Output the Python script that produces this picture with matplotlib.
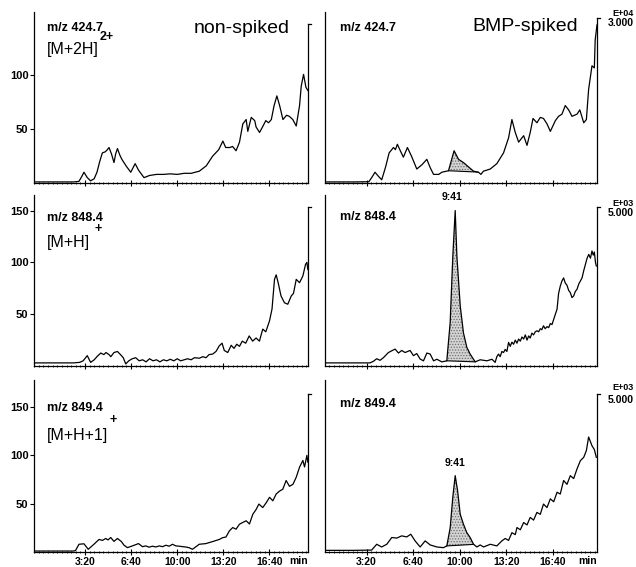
import numpy as np
import matplotlib
matplotlib.use("Agg")
import matplotlib.pyplot as plt
from matplotlib.ticker import MultipleLocator

plt.rcParams['font.family'] = ['Liberation Sans', 'DejaVu Sans']
plt.rcParams['hatch.linewidth'] = 0.6

##time axis (minutes) tick positions and labels
tick_pos = [10/3, 20/3, 10.0, 40/3, 50/3]
tick_labels = ["3:20", "6:40", "10:00", "13:20", "16:40"]

##m/z 424.7 non-spiked
t_ns_424 = [-0.4, 0.5, 1.5, 2.5, 2.9, 3.1, 3.26, 3.5, 3.74, 4.0, 4.2, 4.4, 4.59, 4.8, 4.95,
            5.07, 5.25, 5.43, 5.55, 5.68, 5.85, 6.0, 6.3, 6.64, 6.8, 6.96, 7.2, 7.6, 8.0, 8.5,
            9.0, 9.5, 10.0, 10.5, 11.0, 11.6, 12.1, 12.56, 13.0, 13.3, 13.5, 13.8, 14.0, 14.25, 14.5,
            14.74, 14.98, 15.1, 15.35, 15.6, 15.7, 15.95, 16.2, 16.4, 16.6, 16.8, 17.0, 17.2, 17.4, 17.64,
            17.9, 18.1, 18.35, 18.6, 18.84, 18.96, 19.13, 19.3, 19.44]
v_ns_424 = [1, 1, 1, 1, 1.5, 6, 10, 5, 2, 4, 10, 20, 28, 29, 31,
            33, 27, 19, 27, 32, 26, 22, 16, 10, 14, 18, 12, 5, 7, 8,
            8, 8.5, 8, 9, 9, 11, 16, 25, 31, 39, 33, 33, 34, 30, 38,
            55, 59, 48, 61, 58, 52, 47, 53, 58, 56, 59, 72, 81, 72, 59,
            63, 62, 59, 53, 72, 90, 101, 89, 86]

##m/z 424.7 BMP-spiked
t_sp_424 = [0.36, 1.5, 2.5, 3.5, 3.7, 3.94, 4.2, 4.42, 4.7, 4.95, 5.26, 5.4, 5.54, 5.75, 5.97,
            6.26, 6.55, 6.93, 7.3, 7.65, 7.9, 8.13, 8.5, 8.72, 9.2, 9.6, 9.92, 10.27, 10.63, 10.99,
            11.35, 11.52, 11.7, 12.19, 12.66, 13.14, 13.5, 13.74, 13.98, 14.22, 14.58, 14.82, 15.05, 15.25, 15.53,
            15.77, 16.0, 16.25, 16.49, 16.85, 17.08, 17.32, 17.56, 17.8, 18.04, 18.4, 18.6, 18.88, 19.07, 19.23,
            19.47, 19.64, 19.7, 19.83]
v_sp_424 = [1, 1, 1, 1.2, 5, 10, 6, 3, 15, 28, 33, 31, 36, 30, 24,
            33, 25, 13, 17, 22, 14, 8, 8, 10, 11.4, 30, 22, 19, 15, 11,
            10, 8, 11, 13, 18, 28, 42, 59, 47, 38, 44, 35, 47, 60, 56,
            61, 60, 55, 48, 58, 62, 64, 72, 68, 62, 64, 68, 56, 59, 87,
            109, 107, 133, 147]

##m/z 848.4 non-spiked
t_ns_848 = [-0.4, 0.5, 1.5, 2.5, 2.95, 3.2, 3.5, 3.74, 4.0, 4.2, 4.47, 4.7, 4.85, 5.07, 5.2,
            5.43, 5.68, 5.9, 6.1, 6.28, 6.5, 6.75, 7.0, 7.25, 7.5, 7.75, 8.0, 8.25, 8.5, 8.75,
            9.0, 9.25, 9.5, 9.75, 10.0, 10.25, 10.5, 10.75, 11.0, 11.25, 11.6, 11.85, 12.08, 12.3, 12.56,
            12.8, 13.04, 13.24, 13.4, 13.65, 13.9, 14.1, 14.3, 14.5, 14.7, 14.95, 15.2, 15.45, 15.7, 15.94,
            16.18, 16.4, 16.67, 16.85, 17.03, 17.15, 17.3, 17.5, 17.75, 17.99, 18.24, 18.4, 18.6, 18.84, 19.08,
            19.27, 19.37, 19.44]
v_ns_848 = [3, 3, 3, 3, 3.5, 5, 10, 3.5, 6, 9, 12.5, 11, 13, 11, 9,
            13, 14, 11, 8, 2, 5, 7, 8, 5, 6, 4, 7, 5, 6, 4,
            6, 5, 6.5, 5, 7, 5, 6, 7, 6, 8, 7.5, 9, 8, 11, 11.5,
            14, 19.5, 22, 15, 13, 20, 17, 21, 19, 24, 22, 29, 24, 27, 24,
            35.6, 33, 43.6, 55, 83.6, 88, 80, 67.6, 61, 59.6, 67.6, 70, 83.6, 80.4, 86.9,
            98, 100, 93]

##m/z 848.4 BMP-spiked
t_sp_848 = [0.36, 1.5, 2.5, 3.58, 3.82, 4.06, 4.3, 4.54, 4.9, 5.14, 5.38, 5.62, 5.85, 6.09, 6.45,
            6.69, 6.93, 7.17, 7.41, 7.65, 7.89, 8.13, 8.37, 8.72, 9.08, 9.32, 9.51, 9.68, 9.8, 10.04,
            10.27, 10.51, 10.75, 10.99, 11.11, 11.47, 11.95, 12.31,
            12.54, 12.66, 12.78, 12.9, 13.02, 13.14, 13.26, 13.38, 13.5, 13.62,
            13.74, 13.86, 13.98, 14.1, 14.22, 14.34, 14.46, 14.58, 14.7, 14.82,
            14.94, 15.05, 15.17, 15.29, 15.41, 15.53, 15.65, 15.77, 15.88, 16.0,
            16.12, 16.25, 16.37, 16.49, 16.61, 16.73, 16.85, 16.97, 17.08, 17.2,
            17.32, 17.44, 17.56, 17.68, 17.8, 17.92, 18.04, 18.16, 18.28, 18.4,
            18.52, 18.64, 18.76, 18.88, 19.0, 19.12, 19.24, 19.36, 19.47, 19.56,
            19.64, 19.72, 19.78]
v_sp_848 = [3, 3, 3, 3, 4.5, 7, 5.5, 8, 13, 14.7, 16.3, 12.5, 15, 13, 15,
            10, 12, 6.7, 5, 12.5, 11.5, 5, 6.5, 4, 5, 42, 106, 150, 106, 58,
            32, 18, 11.5, 6.5, 4, 6, 5, 6.5,
            3.5, 9, 11.5, 9, 14, 13, 16, 14, 22.8, 19,
            23, 21, 25, 22, 26, 24, 28, 26, 30, 25,
            29, 27, 31.7, 30, 33, 34, 33, 36, 35, 38.8,
            36, 38, 37, 41, 40, 45, 50, 54.8, 70, 77,
            82, 85, 80, 78, 73, 70.8, 66, 67.6, 72, 74,
            79, 82, 85, 92, 98, 104, 107.7, 104, 111, 107,
            110, 100, 96.5]

##m/z 849.4 non-spiked
t_ns_849 = [-0.4, 0.5, 1.5, 2.5, 2.65, 2.9, 3.26, 3.57, 3.98, 4.35, 4.6, 4.83, 5.0, 5.19, 5.43,
            5.68, 5.95, 6.16, 6.4, 6.76, 7.2, 7.49, 7.73, 7.97, 8.21, 8.46, 8.7, 8.94, 9.18, 9.42,
            9.66, 9.9, 10.15, 10.4, 10.6, 10.85, 11.1, 11.59, 12.07, 12.56, 13.04, 13.28, 13.52, 13.77, 14.01,
            14.25, 14.5, 14.74, 14.98, 15.22, 15.46, 15.7, 15.9, 16.18, 16.43, 16.67, 16.91, 17.15, 17.39, 17.63,
            17.87, 18.11, 18.36, 18.6, 18.84, 19.08, 19.2, 19.37, 19.44]
v_ns_849 = [1, 1, 1, 1, 1.5, 8, 8.5, 2.8, 8, 13, 12, 14, 12.5, 15, 11,
            14, 11, 7, 4.5, 6.3, 8.7, 5.5, 6.3, 5, 6, 5.2, 6.3, 5.5, 7, 6,
            8, 6.3, 6, 5.5, 5.2, 4.5, 2.8, 8, 8.7, 10.8, 13, 14.8, 15.5, 21.9, 25.3,
            23.6, 28.8, 30.6, 32.3, 29, 39, 44, 49.6, 46, 51, 56.6, 53, 60, 63, 65,
            74, 68, 70, 77.4, 87.8, 94.8, 88, 100, 93]

##m/z 849.4 BMP-spiked
t_sp_849 = [0.36, 1.5, 2.5, 3.7, 4.06, 4.42, 4.78, 5.14, 5.5, 5.85, 6.21, 6.5, 6.81, 7.17, 7.53,
            7.89, 8.37, 8.84, 9.08, 9.32, 9.51, 9.68, 9.85, 10.04, 10.27, 10.51, 10.75, 10.99, 11.23, 11.47,
            11.71, 12.19, 12.66, 13.02, 13.26, 13.5, 13.74, 13.98, 14.1, 14.34, 14.58, 14.82, 15.05, 15.29, 15.53,
            15.77, 16.0, 16.25, 16.49, 16.73, 16.97, 17.2, 17.44, 17.68, 17.92, 18.16, 18.4, 18.64, 18.88, 19.07,
            19.23, 19.47, 19.64, 19.78]
v_sp_849 = [1.7, 1.7, 1.7, 2, 8, 5.2, 8, 15, 14.4, 16.7, 15.6, 18.4, 11.5, 5.2, 11.5,
            7.3, 5.2, 4.5, 6.3, 25, 57, 79, 63.5, 39, 28.8, 20, 15, 8, 5.2, 7.3,
            5.2, 8, 6.3, 11.5, 14, 12, 20, 18, 25.3, 23, 30.5, 28, 35.8, 33, 41,
            39, 49.6, 46, 55, 52, 61.8, 60, 74, 70, 79, 76, 86, 94.5, 98, 105,
            119, 110, 106, 98]

##shaded (integrated) peak windows in the spiked runs
shade_424 = (9.2, 11.3)
shade_848 = (9.08, 11.11)
shade_849 = (9.08, 11.0)
peak_time = 9.68
peak_label = "9:41"


fig = plt.figure(figsize=(6.36, 5.67), dpi=100)
W, H = 636.0, 567.0

def add_ax(x0, y0, x1, y1):
    #pixel box -> figure fraction
    return fig.add_axes([x0/W, 1 - y1/H, (x1 - x0)/W, (y1 - y0)/H])


def draw_panel(ax, t, v, xlim, ylim, spine_top, yticks=None, bottom_labels=False, shade=None):
    ax.plot(t, v, color='black', lw=0.9)
    ax.set_xlim(xlim)
    ax.set_ylim(ylim)
    ax.spines['top'].set_visible(False)
    for s in ['left', 'right', 'bottom']:
        ax.spines[s].set_linewidth(0.9)
    ax.spines['right'].set_bounds(ylim[0], spine_top)
    #small outward tick at the top of the right spine
    ax.plot([1.0, 1.012], [spine_top, spine_top], transform=ax.get_yaxis_transform(),
            color='black', lw=0.9, clip_on=False)

    ax.set_xticks(tick_pos)
    ax.xaxis.set_minor_locator(MultipleLocator(1/3))
    ax.tick_params(axis='x', which='major', direction='inout', length=4, width=0.8, pad=1.5, labelsize=7.5)
    ax.tick_params(axis='x', which='minor', direction='inout', length=2, width=0.6)
    if bottom_labels:
        ax.set_xticklabels(tick_labels, fontweight='bold')
        ax.text(1.0, -0.022, "min", transform=ax.transAxes, ha='right', va='top',
                fontsize=7.5, fontweight='bold')
    else:
        ax.set_xticklabels([])

    if yticks:
        ax.set_yticks(yticks)
        ax.set_yticklabels([str(y) for y in yticks], fontweight='bold')
        ax.tick_params(axis='y', direction='out', length=3, width=0.8, pad=1, labelsize=8)
    else:
        ax.set_yticks([])

    if shade:
        lo, hi = shade
        tt = np.array([lo] + [x for x in t if lo < x < hi] + [hi])
        cv = np.interp(tt, t, v)
        base = np.interp(tt, [lo, hi], [cv[0], cv[-1]])
        ax.fill_between(tt, base, cv, facecolor='#d4d4d4', edgecolor='#6e6e6e',
                        hatch='......', lw=0)
        ax.plot([lo, hi], [cv[0], cv[-1]], color='black', lw=0.8)


xl_left = (-0.35, 19.45)
xl_right = (0.36, 19.83)

##row 1 : m/z 424.7
ax1 = add_ax(34, 12, 308, 183)
draw_panel(ax1, t_ns_424, v_ns_424, xl_left, (0, 159), 148, yticks=[50, 100])
ax2 = add_ax(325, 12, 597, 183)
draw_panel(ax2, t_sp_424, v_sp_424, xl_right, (0, 159), 153, shade=shade_424)

##row 2 : m/z 848.4
ax3 = add_ax(34, 195, 308, 366)
draw_panel(ax3, t_ns_848, v_ns_848, xl_left, (0, 165), 153, yticks=[50, 100, 150])
ax4 = add_ax(325, 195, 597, 366)
draw_panel(ax4, t_sp_848, v_sp_848, xl_right, (0, 165), 153, shade=shade_848)

##row 3 : m/z 849.4
ax5 = add_ax(34, 380, 308, 552)
draw_panel(ax5, t_ns_849, v_ns_849, xl_left, (0, 178), 163, yticks=[50, 100, 150], bottom_labels=True)
ax6 = add_ax(325, 380, 597, 552)
draw_panel(ax6, t_sp_849, v_sp_849, xl_right, (0, 178), 163, shade=shade_849, bottom_labels=True)

##annotations
lab = dict(fontsize=9, fontweight='bold', ha='left', va='center')
ion = dict(fontsize=11.5, ha='left', va='center')
sup = dict(fontsize=9, fontweight='bold', ha='left', va='center')

ax1.text(0.047, 0.906, "m/z 424.7", transform=ax1.transAxes, **lab)
ax1.text(0.047, 0.778, "[M+2H]", transform=ax1.transAxes, **ion)
ax1.text(0.238, 0.852, "2+", transform=ax1.transAxes, **sup)
ax1.text(0.934, 0.905, "non-spiked", transform=ax1.transAxes, fontsize=14, ha='right', va='center')

ax2.text(0.055, 0.906, "m/z 424.7", transform=ax2.transAxes, **lab)
ax2.text(0.93, 0.915, "BMP-spiked", transform=ax2.transAxes, fontsize=14, ha='right', va='center')

ax3.text(0.047, 0.865, "m/z 848.4", transform=ax3.transAxes, **lab)
ax3.text(0.047, 0.72, "[M+H]", transform=ax3.transAxes, **ion)
ax3.text(0.222, 0.80, "+", transform=ax3.transAxes, **sup)

ax4.text(0.055, 0.871, "m/z 848.4", transform=ax4.transAxes, **lab)
ax4.text(peak_time - 0.2, 158, peak_label, fontsize=7.5, fontweight='bold', ha='center', va='bottom')

ax5.text(0.047, 0.84, "m/z 849.4", transform=ax5.transAxes, **lab)
ax5.text(0.047, 0.68, "[M+H+1]", transform=ax5.transAxes, **ion)
ax5.text(0.277, 0.767, "+", transform=ax5.transAxes, **sup)

ax6.text(0.055, 0.86, "m/z 849.4", transform=ax6.transAxes, **lab)
ax6.text(peak_time, 87, peak_label, fontsize=7.5, fontweight='bold', ha='center', va='bottom')

##intensity scale labels at right
for y_e, y_v, e_txt, v_txt in [(13, 23, "E+04", "3.000"), (203.5, 213, "E+03", "5.000"), (388, 400, "E+03", "5.000")]:
    fig.text(634/W, 1 - y_e/H, e_txt, fontsize=6.5, fontweight='bold', ha='right', va='center')
    fig.text(634/W, 1 - y_v/H, v_txt, fontsize=7.5, fontweight='bold', ha='right', va='center')

fig.savefig("out.png", dpi=100)
